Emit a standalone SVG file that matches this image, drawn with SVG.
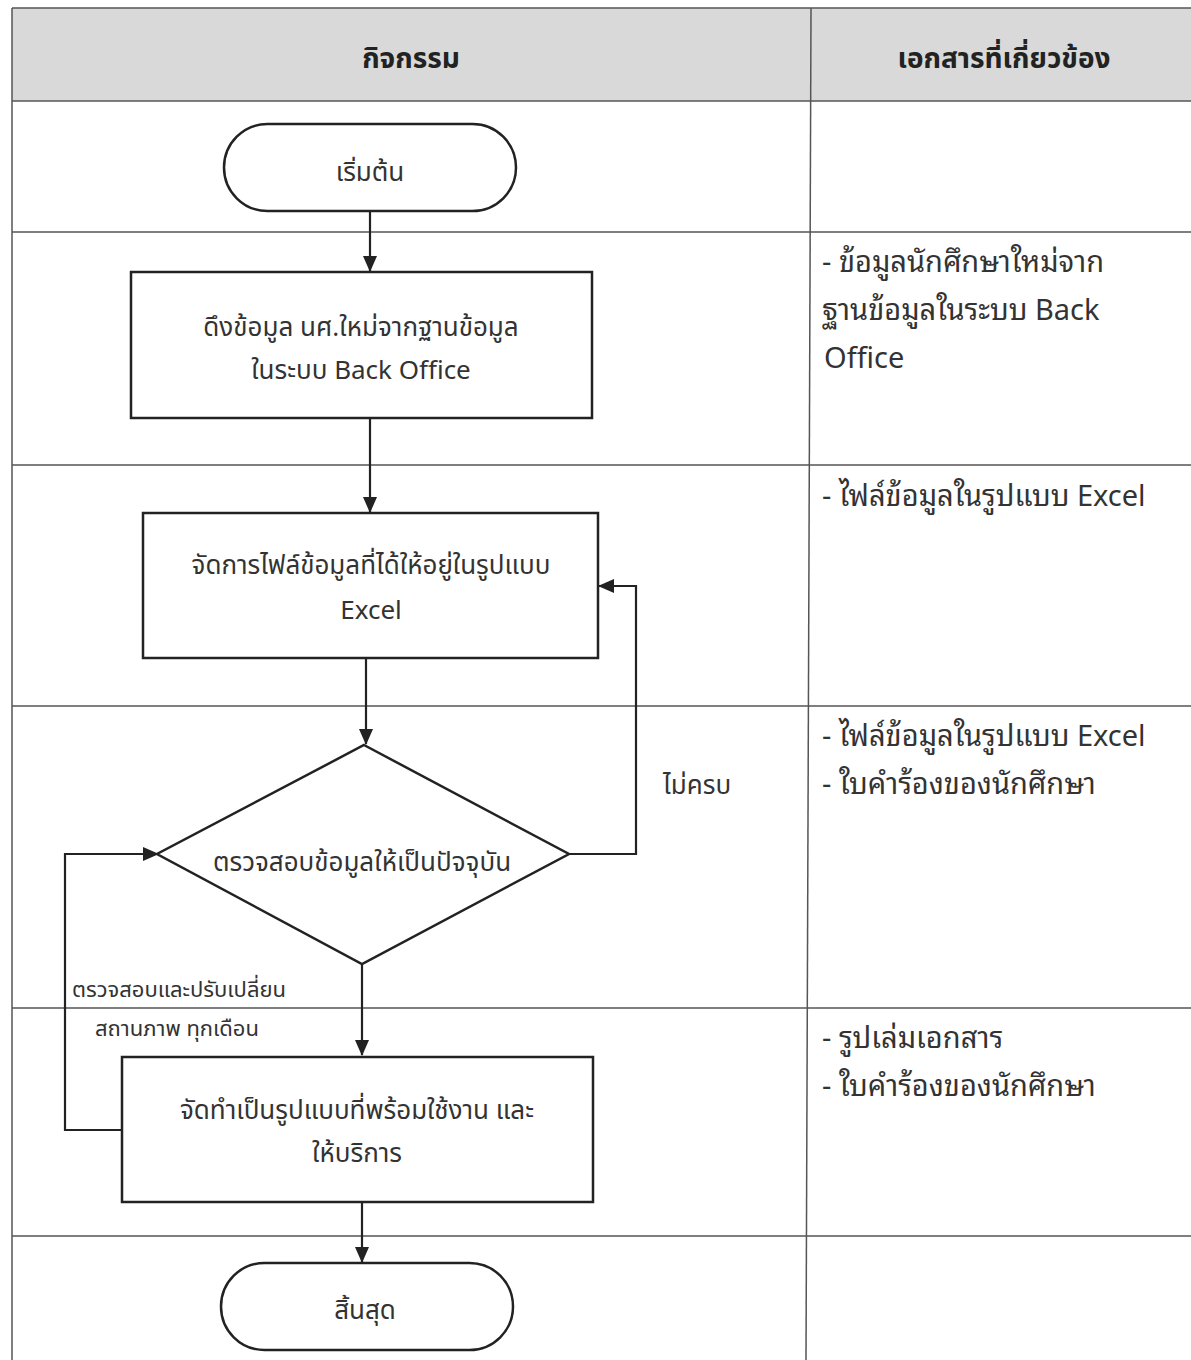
<svg xmlns="http://www.w3.org/2000/svg" width="1191" height="1360" viewBox="0 0 1191 1360">
<defs>
<marker id="ahs" markerWidth="16" markerHeight="14" refX="15" refY="7" orient="auto" markerUnits="userSpaceOnUse" viewBox="0 0 16 14">
<path d="M0,0 L16,7 L0,14 Z" fill="#222"/>
</marker>
</defs>
<style>
.grid{stroke:#555;stroke-width:1.5;fill:none}
.shape{fill:#fff;stroke:#222;stroke-width:2.5}
.conn{fill:none;stroke:#222;stroke-width:2.2}
.t{font-family:"Noto Sans Thai","Noto Sans Thai Looped","Noto Sans","DejaVu Sans",sans-serif;fill:#333;font-size:26px;text-anchor:middle}
.h{font-family:"Noto Sans Thai","Noto Sans","DejaVu Sans",sans-serif;fill:#222;font-size:28px;font-weight:bold;text-anchor:middle}
.doc{font-family:"Noto Sans Thai Looped","Noto Sans Thai","Noto Sans","DejaVu Sans",sans-serif;fill:#333;font-size:29px}
.lbl{font-family:"Noto Sans Thai","Noto Sans","DejaVu Sans",sans-serif;fill:#333;font-size:26px}
.lbls{font-family:"Noto Sans Thai","Noto Sans","DejaVu Sans",sans-serif;fill:#333;font-size:22px}
</style>
<rect width="1191" height="1360" fill="#fff"/>
<g id="table">
<rect x="12" y="8" width="1185" height="93" fill="#d9d9d9"/>
<line class="grid" x1="12" y1="8" x2="1191" y2="8"/>
<line class="grid" x1="12" y1="101" x2="1191" y2="101"/>
<line class="grid" x1="12" y1="232" x2="1191" y2="232"/>
<line class="grid" x1="12" y1="465" x2="1191" y2="465"/>
<line class="grid" x1="12" y1="706" x2="1191" y2="706"/>
<line class="grid" x1="12" y1="1008" x2="1191" y2="1008"/>
<line class="grid" x1="12" y1="1236" x2="1191" y2="1236"/>
<line class="grid" x1="12" y1="8" x2="12" y2="1360"/>
<line class="grid" x1="811" y1="8" x2="806" y2="1360"/>
<text class="h" x="411" y="68">กิจกรรม</text>
<text class="h" x="1004" y="68">เอกสารที่เกี่ยวข้อง</text>
</g>
<g id="connectors">
<line class="conn" x1="370" y1="211" x2="370" y2="271" marker-end="url(#ahs)"/>
<line class="conn" x1="370" y1="418" x2="370" y2="512" marker-end="url(#ahs)"/>
<line class="conn" x1="366" y1="658" x2="366" y2="744" marker-end="url(#ahs)"/>
<polyline class="conn" points="569,854 636,854 636,586 599,586" marker-end="url(#ahs)"/>
<line class="conn" x1="362" y1="964" x2="362" y2="1055" marker-end="url(#ahs)"/>
<polyline class="conn" points="122,1130 65,1130 65,854 158,854" marker-end="url(#ahs)"/>
<line class="conn" x1="362" y1="1202" x2="362" y2="1262" marker-end="url(#ahs)"/>
<text class="lbl" x="697" y="794" text-anchor="middle">ไม่ครบ</text>
<text class="lbls" x="72" y="997">ตรวจสอบและปรับเปลี่ยน</text>
<text class="lbls" x="95" y="1036">สถานภาพ  ทุกเดือน</text>
</g>
<g id="start">
<rect class="shape" x="224" y="124" width="292" height="87" rx="43.5"/>
<text class="t" x="370" y="181">เริ่มต้น</text>
</g>
<g id="fetch">
<rect class="shape" x="131" y="272" width="461" height="146"/>
<text class="t" x="361" y="336">ดึงข้อมูล นศ.ใหม่จากฐานข้อมูล</text>
<text class="t" x="361" y="379">ในระบบ Back Office</text>
</g>
<g id="format">
<rect class="shape" x="143" y="513" width="455" height="145"/>
<text class="t" x="371" y="574">จัดการไฟล์ข้อมูลที่ได้ให้อยู่ในรูปแบบ</text>
<text class="t" x="371" y="619">Excel</text>
</g>
<g id="check">
<polygon class="shape" points="364,745 569,854 362,964 157,854"/>
<text class="t" x="362" y="871">ตรวจสอบข้อมูลให้เป็นปัจจุบัน</text>
</g>
<g id="prepare">
<rect class="shape" x="122" y="1057" width="471" height="145"/>
<text class="t" x="357" y="1119">จัดทำเป็นรูปแบบที่พร้อมใช้งาน และ</text>
<text class="t" x="357" y="1162">ให้บริการ</text>
</g>
<g id="end">
<rect class="shape" x="221" y="1263" width="292" height="87" rx="43.5"/>
<text class="t" x="365" y="1319">สิ้นสุด</text>
</g>
<g id="docs">
<text class="doc" x="822" y="272">- ข้อมูลนักศึกษาใหม่จาก</text>
<text class="doc" x="822" y="320">ฐานข้อมูลในระบบ Back</text>
<text class="doc" x="824" y="368">Office</text>
<text class="doc" x="822" y="506">- ไฟล์ข้อมูลในรูปแบบ Excel</text>
<text class="doc" x="822" y="746">- ไฟล์ข้อมูลในรูปแบบ Excel</text>
<text class="doc" x="822" y="794">- ใบคำร้องของนักศึกษา</text>
<text class="doc" x="822" y="1048">- รูปเล่มเอกสาร</text>
<text class="doc" x="822" y="1096">- ใบคำร้องของนักศึกษา</text>
</g>
</svg>
